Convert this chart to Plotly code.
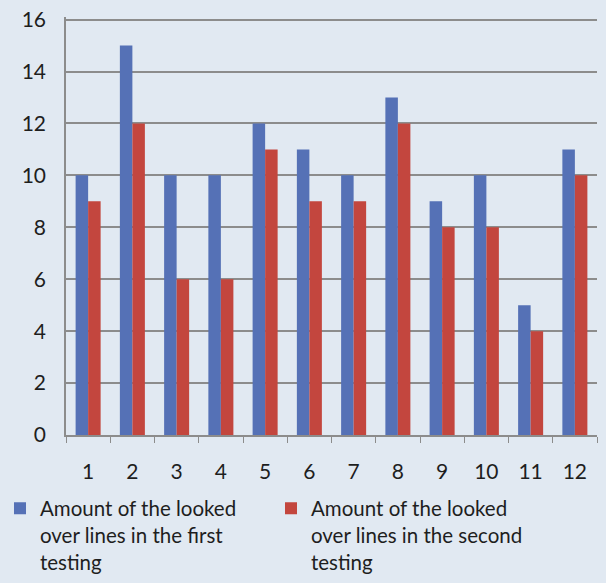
import plotly.graph_objects as go

categories = [str(i) for i in range(1, 13)]
first_testing = [10, 15, 10, 10, 12, 11, 10, 13, 9, 10, 5, 11]
second_testing = [9, 12, 6, 6, 11, 9, 9, 12, 8, 8, 4, 10]
y_ticks = [0, 2, 4, 6, 8, 10, 12, 14, 16]
series_names = [
    "Amount of the looked<br>over lines in the first<br>testing",
    "Amount of the looked<br>over lines in the second<br>testing",
]

BG = "#e1e9f2"
FONT = "Lato, 'Liberation Sans', sans-serif"
TXT = "#1e1e1e"

fig = go.Figure()
fig.add_trace(go.Bar(x=categories, y=first_testing, name=series_names[0],
                     marker=dict(color="#5571b6", line=dict(width=0))))
fig.add_trace(go.Bar(x=categories, y=second_testing, name=series_names[1],
                     marker=dict(color="#c3463e", line=dict(width=0))))

fig.update_layout(
    width=606, height=583,
    margin=dict(l=66, r=9, t=17, b=148, autoexpand=False),
    paper_bgcolor=BG, plot_bgcolor=BG,
    barmode="group", bargap=0.435, bargroupgap=0,
    font=dict(family=FONT, size=21, color=TXT),
    showlegend=True,
    legend=dict(orientation="h", x=-0.1243, xanchor="left", y=-0.128, yanchor="top",
                entrywidth=226, entrywidthmode="pixels", valign="top",
                font=dict(family=FONT, size=20.5, color=TXT),
                bgcolor="rgba(0,0,0,0)", traceorder="normal"),
)
fig.update_xaxes(type="category", showgrid=False, showline=True, linecolor="#8c8c8c", linewidth=1.5,
                 ticks="outside", tickson="boundaries", ticklen=6, tickcolor="#8c8c8c",
                 tickfont=dict(size=21, family=FONT, color=TXT), ticklabelstandoff=17)
fig.update_yaxes(range=[0, 16.1], tickvals=y_ticks, showgrid=True, gridcolor="#8c8c8c", gridwidth=1.5,
                 showline=True, linecolor="#8c8c8c", linewidth=1.5, zeroline=False,
                 ticks="", ticklabelstandoff=14, ticklabeloverflow="allow",
                 tickfont=dict(size=21, family=FONT, color=TXT))

fig.write_html("out.html", config={"displayModeBar": False},
               post_script="document.body.style.margin='0';")
